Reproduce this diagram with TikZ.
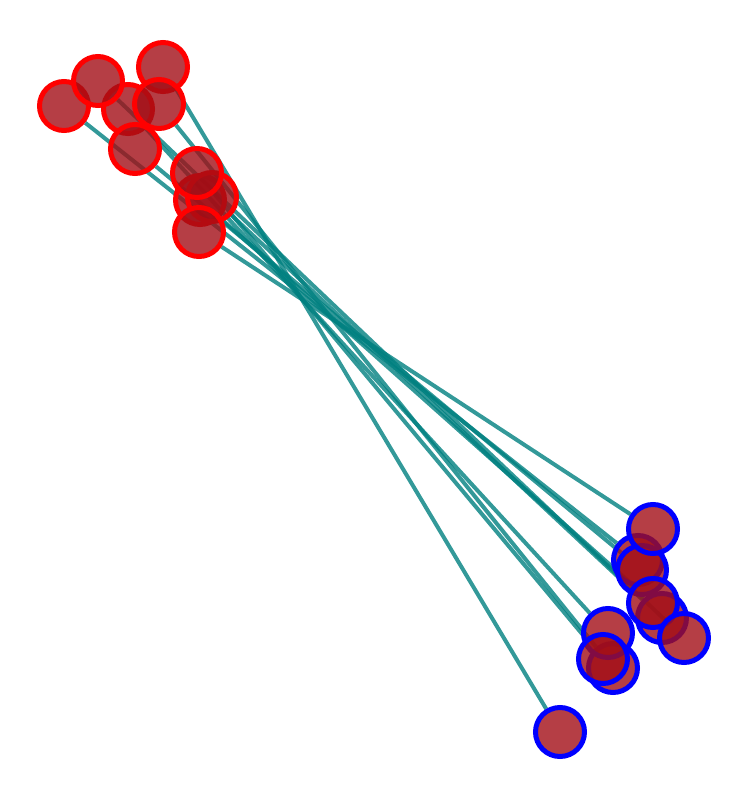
\documentclass[tikz,border=0pt]{standalone}
\usetikzlibrary{backgrounds}
\definecolor{nfill}{RGB}{162,14,22}
\definecolor{edgeteal}{RGB}{0,128,128}
\definecolor{purered}{RGB}{255,0,0}
\definecolor{pureblue}{RGB}{0,0,255}
\tikzset{
  vtx/.style={circle,inner sep=0pt,minimum size=49pt,line width=5pt,fill=nfill,fill opacity=0.8,draw opacity=1},
  rednode/.style={vtx,draw=purered},
  bluenode/.style={vtx,draw=pureblue},
  link/.style={draw=edgeteal,line width=4pt,draw opacity=0.8}
}
\begin{document}
\begin{tikzpicture}[x=1pt,y=-1pt]
\useasboundingbox (0,0) rectangle (749,800);
% red nodes
\node[rednode] (n1) at (64,106) {};
\node[rednode] (n3) at (163,67) {};
\node[rednode] (n4) at (128,109) {};
\node[rednode] (n2) at (98,81) {};
\node[rednode] (n5) at (159,104) {};
\node[rednode] (n6) at (135,149) {};
\node[rednode] (n9) at (200,200) {};
\node[rednode] (n8) at (212,197) {};
\node[rednode] (n7) at (197,173) {};
\node[rednode] (n10) at (199,232) {};
% blue nodes
\node[bluenode] (m2) at (638,560) {};
\node[bluenode] (m3) at (642,570) {};
\node[bluenode] (m1) at (653,529) {};
\node[bluenode] (m5) at (662,618) {};
\node[bluenode] (m4) at (653,603) {};
\node[bluenode] (m6) at (684,638) {};
\node[bluenode] (m9) at (613,668) {};
\node[bluenode] (m7) at (608,633) {};
\node[bluenode] (m8) at (603,659) {};
\node[bluenode] (m10) at (560,732) {};
% edges, behind the nodes
\begin{scope}[on background layer]
\draw[link] (n10) -- (m1);
\draw[link] (n1) -- (m2);
\draw[link] (n6) -- (m3);
\draw[link] (n9) -- (m4);
\draw[link] (n8) -- (m5);
\draw[link] (n2) -- (m6);
\draw[link] (n4) -- (m7);
\draw[link] (n7) -- (m8);
\draw[link] (n5) -- (m9);
\draw[link] (n3) -- (m10);
\end{scope}
\end{tikzpicture}
\end{document}
